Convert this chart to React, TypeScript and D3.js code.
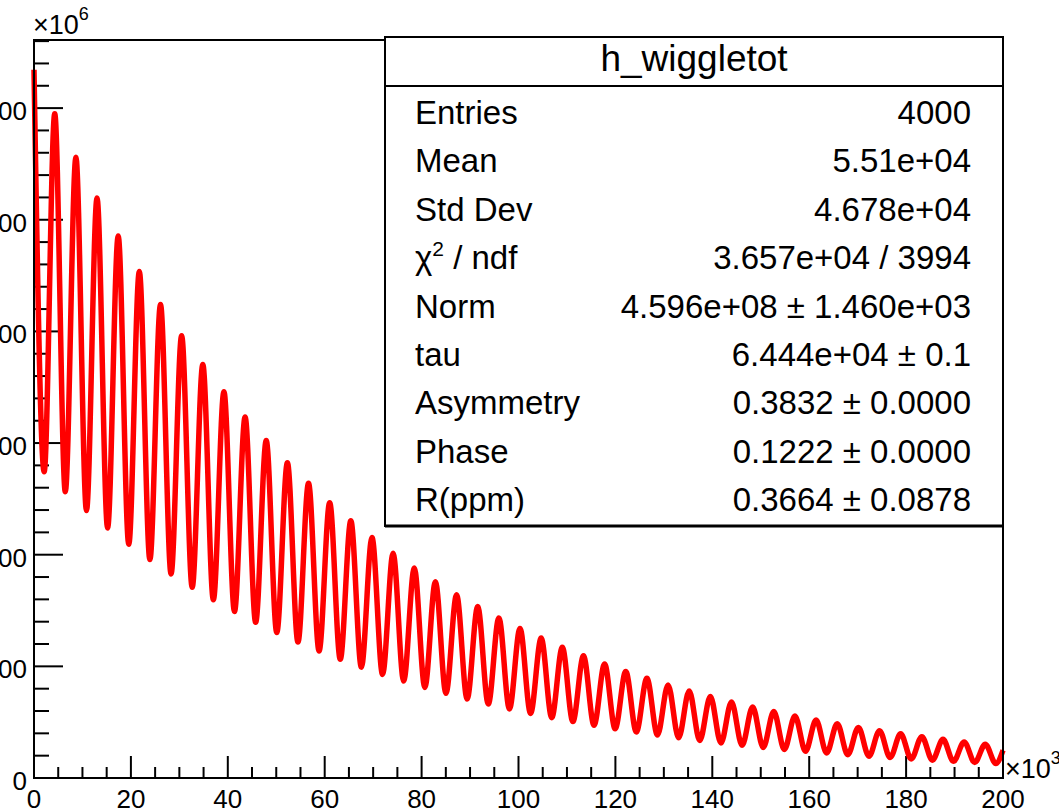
import * as React from "react";
import * as d3 from "d3";

// time in units of 10^3, counts in units of 10^6
const startPoint = [0, 634.4];
const endPoint = [200, 24.8];

const peakTimes = [4.28, 8.65, 13.01, 17.38, 21.74, 26.11, 30.47, 34.84, 39.2, 43.57, 47.93, 52.3, 56.66, 61.03, 65.39, 69.76, 74.12, 78.49, 82.85, 87.22, 91.58, 95.95, 100.31, 104.68, 109.04, 113.41, 117.77, 122.14, 126.5, 130.87, 135.23, 139.6, 143.96, 148.33, 152.69, 157.06, 161.42, 165.79, 170.15, 174.52, 178.88, 183.25, 187.61, 191.98, 196.34];
const peakCounts = [594.9, 555.9, 519.5, 485.5, 453.7, 424.0, 396.2, 370.3, 346.0, 323.3, 302.2, 282.4, 263.9, 246.6, 230.4, 215.4, 201.3, 188.1, 175.8, 164.2, 153.5, 143.4, 134.0, 125.3, 117.1, 109.4, 102.2, 95.5, 89.3, 83.4, 78.0, 72.9, 68.1, 63.6, 59.5, 55.6, 51.9, 48.5, 45.3, 42.4, 39.6, 37.0, 34.6, 32.3, 30.2];

const troughTimes = [2.1, 6.46, 10.83, 15.19, 19.56, 23.92, 28.29, 32.65, 37.02, 41.38, 45.75, 50.11, 54.48, 58.84, 63.21, 67.57, 71.94, 76.3, 80.67, 85.03, 89.4, 93.76, 98.13, 102.49, 106.86, 111.22, 115.59, 119.95, 124.32, 128.68, 133.05, 137.41, 141.78, 146.14, 150.51, 154.87, 159.24, 163.6, 167.97, 172.33, 176.7, 181.06, 185.43, 189.79, 194.16, 198.52];
const troughCounts = [274.4, 256.4, 239.6, 223.9, 209.3, 195.6, 182.8, 170.8, 159.6, 149.2, 139.4, 130.3, 121.7, 113.8, 106.3, 99.3, 92.8, 86.8, 81.1, 75.8, 70.8, 66.2, 61.8, 57.8, 54.0, 50.5, 47.2, 44.1, 41.2, 38.5, 36.0, 33.6, 31.4, 29.3, 27.4, 25.6, 24.0, 22.4, 20.9, 19.5, 18.3, 17.1, 16.0, 14.9, 13.9, 13.0];

const statsTitle = "h_wiggletot";
const statLabels = ["Entries", "Mean", "Std Dev", "chi2", "Norm", "tau", "Asymmetry", "Phase", "R(ppm)"];
const statValues = ["4000", "5.51e+04", "4.678e+04", "3.657e+04 / 3994", "4.596e+08 \u00b1 1.460e+03", "6.444e+04 \u00b1 0.1", "0.3832 \u00b1 0.0000", "0.1222 \u00b1 0.0000", "0.3664 \u00b1 0.0878"];

const xLabels = [0, 20, 40, 60, 80, 100, 120, 140, 160, 180, 200];
const yLabels = [0, 100, 200, 300, 400, 500, 600];

const font = "'Liberation Sans', Arial, Helvetica, sans-serif";

export default function App() {
  const x = d3.scaleLinear().domain([0, 200]).range([34, 1003]);
  const y = d3.scaleLinear().domain([0, 661]).range([778, 40]);

  const points: [number, number][] = [[startPoint[0], startPoint[1]]];
  peakTimes.forEach((t, i) => points.push([t, peakCounts[i]]));
  troughTimes.forEach((t, i) => points.push([t, troughCounts[i]]));
  points.push([endPoint[0], endPoint[1]]);
  points.sort((a, b) => a[0] - b[0]);

  const line = d3
    .line<[number, number]>()
    .x((d) => x(d[0]))
    .y((d) => y(d[1]))
    .curve(d3.curveMonotoneX);

  const xTicks = d3.range(0, 201, 5);
  const yTicks = d3.range(0, 661, 20);

  const rowY = (i: number) => 124 + i * 48.4;

  return (
    <svg
      width={1059}
      height={812}
      style={{ position: "absolute", left: 0, top: 0, background: "#fff" }}
      fontFamily={font}
    >
      <rect x={0} y={0} width={1059} height={812} fill="#fff" />

      {/* y ticks */}
      {yTicks.map((v) => (
        <line
          key={"yt" + v}
          x1={x(0)}
          x2={x(0) + (v % 100 === 0 ? 29 : 15)}
          y1={y(v)}
          y2={y(v)}
          stroke="#000"
          strokeWidth={2}
        />
      ))}
      {/* x ticks */}
      {xTicks.map((v) => (
        <line
          key={"xt" + v}
          x1={x(v)}
          x2={x(v)}
          y1={y(0)}
          y2={y(0) - (v % 20 === 0 ? 22 : 11)}
          stroke="#000"
          strokeWidth={2}
        />
      ))}

      <path d={line(points) || ""} fill="none" stroke="#ff0000" strokeWidth={5.5} strokeLinejoin="miter" />

      {/* frame */}
      <rect x={x(0)} y={y(661)} width={x(200) - x(0)} height={y(0) - y(661)} fill="none" stroke="#000" strokeWidth={2} />

      {/* axis labels */}
      {yLabels.map((v) => (
        <text key={"yl" + v} x={27} y={y(v) + 12} textAnchor="end" fontSize={26}>
          {v}
        </text>
      ))}
      {xLabels.map((v) => (
        <text key={"xl" + v} x={x(v)} y={808} textAnchor="middle" fontSize={26}>
          {v}
        </text>
      ))}
      <text x={33} y={34} fontSize={27}>
        ×10<tspan fontSize={18} dy={-14}>6</tspan>
      </text>
      <text x={1005} y={778} fontSize={27}>
        ×10<tspan fontSize={18} dy={-14}>3</tspan>
      </text>

      {/* stats box */}
      <rect x={385} y={37} width={618} height={489} fill="#fff" stroke="#000" strokeWidth={2} />
      <line x1={385} x2={1003} y1={526} y2={526} stroke="#000" strokeWidth={3} />
      <line x1={385} x2={1003} y1={86} y2={86} stroke="#000" strokeWidth={2} />
      <text x={694} y={71} textAnchor="middle" fontSize={37}>
        {statsTitle}
      </text>
      {statLabels.map((lab, i) => (
        <text key={"sl" + i} x={415} y={rowY(i)} fontSize={33}>
          {lab === "chi2" ? (
            <>
              χ<tspan fontSize={21} dy={-13}>2</tspan>
              <tspan dy={13}> / ndf</tspan>
            </>
          ) : (
            lab
          )}
        </text>
      ))}
      {statValues.map((val, i) => (
        <text key={"sv" + i} x={971} y={rowY(i)} textAnchor="end" fontSize={33}>
          {val}
        </text>
      ))}
    </svg>
  );
}
